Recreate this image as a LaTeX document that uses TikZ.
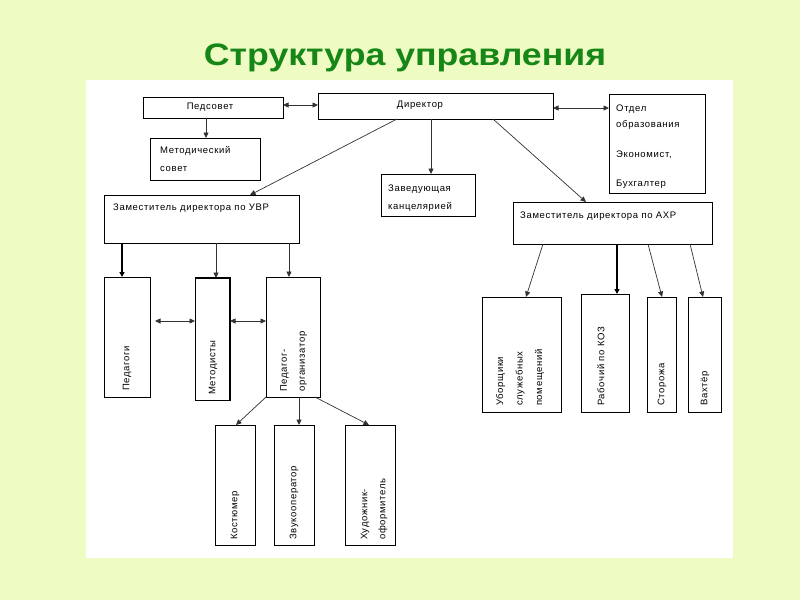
\documentclass[tikz,border=0pt]{standalone}
\usepackage{fontspec}
\setmainfont{Liberation Sans}
\usetikzlibrary{arrows.meta}
\definecolor{bgc}{RGB}{238,252,196}
\definecolor{titlec}{RGB}{22,134,22}
\newfontfamily\boxfont[LetterSpace=7]{Liberation Sans}
\tikzset{
  x=1pt,y=-1pt,
  box/.style={draw=black,line width=0.9pt,fill=white},
  lbl/.style={font=\boxfont\fontsize{9.5}{15}\selectfont,inner sep=0pt,align=left},
  vlbl/.style={font=\boxfont\fontsize{9.5}{18}\selectfont,inner sep=0pt,align=left,rotate=90,anchor=west},
  arr/.style={draw=black!80,line width=0.7pt,-{Triangle[length=5.5pt,width=5pt]}},
  darr/.style={draw=black!80,line width=0.7pt,{Triangle[length=5.5pt,width=5pt]}-{Triangle[length=5.5pt,width=5pt]}},
  tarr/.style={draw=black,line width=1.4pt,-{Triangle[length=5pt,width=5pt]}}
}
\begin{document}
\begin{tikzpicture}
\useasboundingbox (0,0) rectangle (800,600);
\fill[bgc] (0,0) rectangle (800,600);
\fill[white] (86,80) rectangle (733,558);
\node[font=\fontsize{31}{31}\selectfont\bfseries,text=titlec,anchor=base] (title) at (405,65) {\scalebox{1.15}[1]{Структура управления}};

% top row
\draw[box] (143,97) rectangle (283,118);
\node[lbl] (pedsovet) at (210,107.5) {Педсовет};
\draw[box] (318,93) rectangle (553,119);
\node[lbl] (dir) at (420,105) {Директор};
\draw[box] (609,94) rectangle (705,193);
\node[lbl,anchor=north west,font=\boxfont\fontsize{9.5}{16}\selectfont] (otdel) at (616,105) {Отдел\\образования\\[14pt]Экономист,\\[13pt]Бухгалтер};

\draw[box] (150,138) rectangle (260,180);
\node[lbl,anchor=north west,font=\boxfont\fontsize{9.5}{18}\selectfont] (metsov) at (160,146) {Методический\\совет};
\draw[box] (381,174) rectangle (475,216);
\node[lbl,anchor=north west,font=\boxfont\fontsize{9.5}{17.5}\selectfont] (zav) at (388,185) {Заведующая\\канцелярией};

\draw[box] (104,195) rectangle (299,243);
\node[lbl,anchor=west] (zuvr) at (113,208.5) {Заместитель директора по УВР};
\draw[box] (513,202) rectangle (712,244);
\node[lbl,anchor=west] (zahr) at (520,216) {Заместитель директора по АХР};

% connectors top
\coordinate (psR) at (283,105);
\coordinate (dirL) at (318,105);
\draw[darr] (psR) -- (dirL);
\coordinate (dirR) at (553,108);
\coordinate (otL) at (609,108);
\draw[darr] (dirR) -- (otL);
\coordinate (psB) at (206,118);
\coordinate (msT) at (206,138);
\draw[arr] (psB) -- (msT);
\coordinate (d1) at (397,119);
\coordinate (uvrT) at (250,195);
\draw[arr] (d1) -- (uvrT);
\coordinate (d2) at (431,119);
\coordinate (zavT) at (431,174);
\draw[arr] (d2) -- (zavT);
\coordinate (d3) at (493,119);
\coordinate (ahrT) at (586,202);
\draw[arr] (d3) -- (ahrT);

% UVR subordinates
\draw[box] (104,277) rectangle (150,397);
\node[vlbl] (ped) at (127,391) {Педагоги};
\draw[box] (195,278) rectangle (230,400);
\draw[line width=1.4pt] (195,278) -- (230,278) -- (230,400);
\node[vlbl] (met) at (213,395) {Методисты};
\draw[box] (266,277) rectangle (320,397);
\node[vlbl] (porg) at (293.5,392) {Педагог-\\организатор};

\coordinate (u1) at (122,243); \coordinate (p1) at (122,277);
\draw[tarr] (u1) -- (p1);
\coordinate (u2) at (216,243); \coordinate (p2) at (216,278);
\draw[arr] (u2) -- (p2);
\coordinate (u3) at (289,243); \coordinate (p3) at (289,277);
\draw[arr] (u3) -- (p3);
\coordinate (pedR) at (155,321); \coordinate (metL) at (195,321);
\draw[darr] (pedR) -- (metL);
\coordinate (metR) at (230,321); \coordinate (porgL) at (266,321);
\draw[darr] (metR) -- (porgL);

% Pedagog-organizer subordinates
\draw[box] (215,425) rectangle (255,545);
\node[vlbl] (kost) at (235,540) {Костюмер};
\draw[box] (274,425) rectangle (314,545);
\node[vlbl] (zvuk) at (294,540) {Звукооператор};
\draw[box] (345,425) rectangle (395,545);
\node[vlbl] (hud) at (374,540) {Художник-\\оформитель};

\coordinate (o1) at (266,397); \coordinate (k1) at (236,425);
\draw[arr] (o1) -- (k1);
\coordinate (o2) at (299,397); \coordinate (k2) at (299,425);
\draw[arr] (o2) -- (k2);
\coordinate (o3) at (315,397); \coordinate (k3) at (369,425);
\draw[arr] (o3) -- (k3);

% AHR subordinates
\draw[box] (482,297) rectangle (561,412);
\node[vlbl,font=\boxfont\fontsize{9.5}{19.5}\selectfont] (ubor) at (520,406) {Уборщики\\служебных\\помещений};
\draw[box] (581,294) rectangle (629,412);
\node[vlbl] (rab) at (601,406) {Рабочий по КОЗ};
\draw[box] (647,297) rectangle (676,412);
\node[vlbl] (stor) at (662,406) {Сторожа};
\draw[box] (688,297) rectangle (721,412);
\node[vlbl] (vaht) at (705,406) {Вахтёр};

\coordinate (a1) at (543,244); \coordinate (b1) at (526,297);
\draw[arr] (a1) -- (b1);
\coordinate (a2) at (617,244); \coordinate (b2) at (617,294);
\draw[tarr] (a2) -- (b2);
\coordinate (a3) at (648,244); \coordinate (b3) at (662,297);
\draw[arr] (a3) -- (b3);
\coordinate (a4) at (690,244); \coordinate (b4) at (703,297);
\draw[arr] (a4) -- (b4);
\end{tikzpicture}
\end{document}
